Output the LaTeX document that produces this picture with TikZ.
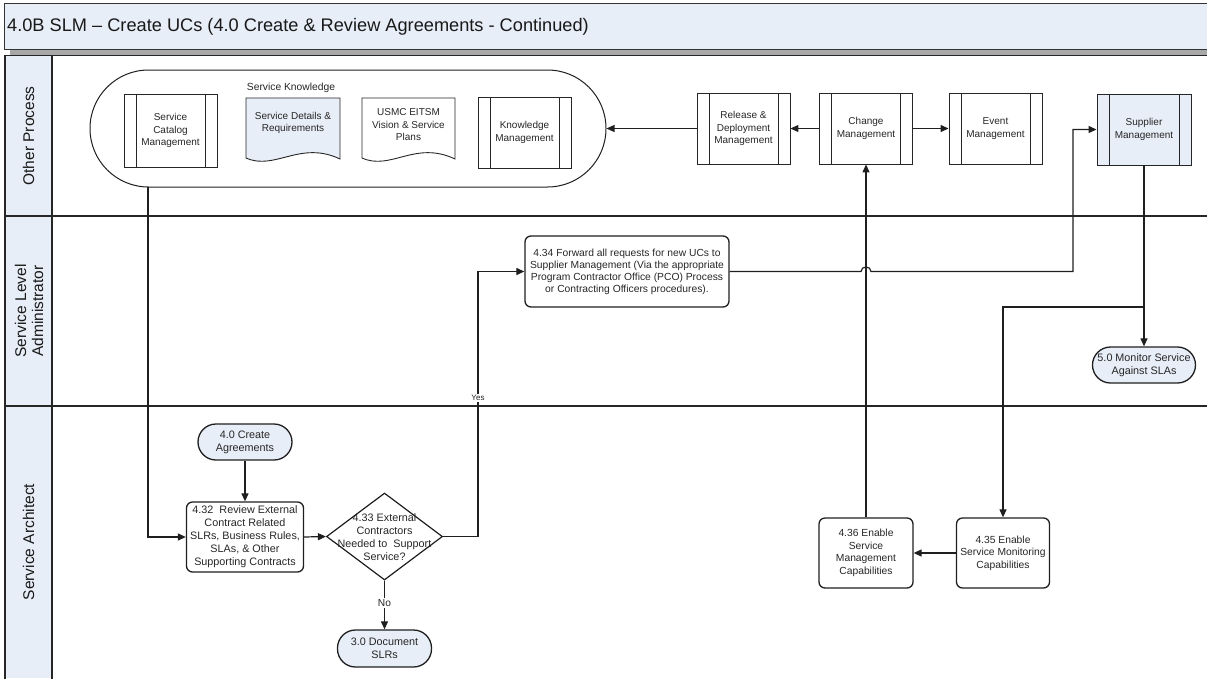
\documentclass[tikz,border=0pt]{standalone}
\usepackage{fontspec}
\setmainfont{Liberation Sans}
\usetikzlibrary{arrows.meta,shapes.geometric,calc}
\definecolor{lblue}{HTML}{E8EEF7}
\definecolor{shgray}{HTML}{A8A8A8}
\newcommand\fsz[2]{\fontsize{#1}{#2}\selectfont}
\begin{document}
\begin{tikzpicture}[x=1pt,y=-1pt,
 line/.style={draw=black!88, line width=1.2pt},
 flow/.style={line, -{Triangle[length=8pt,width=7pt]}},
 txt/.style={align=center, text=black!85, inner sep=0pt},
 predef/.style={draw=black!85, line width=0.9pt, minimum width=93pt, minimum height=71pt, inner sep=0pt, align=center, text=black!85, font=\fsz{10}{12.5},
   path picture={\draw[black!85, line width=0.9pt] ([xshift=12pt]path picture bounding box.north west) -- ([xshift=12pt]path picture bounding box.south west) ([xshift=-12pt]path picture bounding box.north east) -- ([xshift=-12pt]path picture bounding box.south east);}},
 proc/.style={draw=black!88, line width=1.3pt, rounded corners=6pt, inner sep=0pt, align=center, text=black!85},
 term/.style={draw=black!88, line width=1.3pt, fill=lblue, rounded corners=18pt, inner sep=0pt, align=center, text=black!85, font=\fsz{10.8}{13}},
 lanelbl/.style={rotate=90, align=center, text=black!90, font=\fsz{15.5}{17}, inner sep=0pt},
 lane/.style={draw=black!85, line width=1.5pt}
]
\useasboundingbox (0,0) rectangle (1207,678);
% title
\fill[shgray] (10,49) rectangle (1210,55);
\draw[fill=lblue, draw=black!80, line width=1pt] (4,3) rectangle (1215,49);
\node[anchor=west, font=\fsz{18.2}{20}, text=black!90, inner sep=0pt] (title) at (7,26.5) {4.0B SLM – Create UCs (4.0 Create \& Review Agreements - Continued)};
% lanes
\fill[lblue] (5,55) rectangle (52,678);
\draw[lane] (5,55.5) -- (1210,55.5);
\draw[lane] (5,55) -- (5,680);
\draw[lane] (52,55) -- (52,680);
\draw[lane] (5,216) -- (1210,216);
\draw[lane] (5,406) -- (1210,406);
\node[lanelbl] (l1) at (28.5,136) {Other Process};
\node[lanelbl] (l2) at (29,311) {Service Level\\Administrator};
\node[lanelbl] (l3) at (28.5,542) {Service Architect};
% Other process lane
\node[draw=black!88, line width=1pt, rounded corners=58.5pt, minimum width=516pt, minimum height=117pt, inner sep=0pt] (sk) at (348,128.5) {};
\node[txt, font=\fsz{10.3}{12}] (skl) at (291,88) {Service Knowledge};
\node[predef, minimum height=73pt] (scm) at (170.5,130.5) {Service\\Catalog\\Management};
\filldraw[draw=black!85, line width=0.9pt, fill=lblue] (246,98) -- (340,98) -- (340,159) .. controls (300,140) and (275,171) .. (246,158) -- cycle;
\node[txt, font=\fsz{10}{12.5}] (sdr) at (293,123) {Service Details \&\\Requirements};
\draw[draw=black!85, line width=0.9pt] (362,98) -- (455,98) -- (455,159) .. controls (415,140) and (391,171) .. (362,158) -- cycle;
\node[txt, font=\fsz{10}{12.5}] (usmc) at (408.5,125) {USMC EITSM\\Vision \& Service\\Plans};
\node[predef] (km) at (524.5,132.5) {Knowledge\\Management};
\node[predef] (rdm) at (743.5,128.5) {Release \&\\Deployment\\Management};
\node[predef] (chm) at (866,128.5) {Change\\Management};
\node[predef] (evm) at (995.5,128.5) {Event\\Management};
\node[predef, fill=lblue, minimum width=94pt] (sm) at (1144,129.5) {Supplier\\Management};
% SLA lane
\node[proc, minimum width=204pt, minimum height=71pt, font=\fsz{10.3}{12}] (ta) at (627,271.5) {4.34 Forward all requests for new UCs to\\Supplier Management (Via the appropriate\\Program Contractor Office (PCO) Process\\or Contracting Officers procedures).};
\node[term, minimum width=103pt, minimum height=36pt] (mon) at (1144,365) {5.0 Monitor Service\\Against SLAs};
% Architect lane
\node[term, minimum width=94pt, minimum height=36pt] (c40) at (245,442) {4.0 Create\\Agreements};
\node[proc, minimum width=117pt, minimum height=70pt, font=\fsz{10.8}{13}] (r32) at (245,537) {4.32\ \ Review External\\Contract Related\\SLRs, Business Rules,\\SLAs, \& Other\\Supporting Contracts};
\node[diamond, draw=black!88, line width=1.2pt, minimum width=116pt, minimum height=87pt, inner sep=0pt] (d33) at (384.5,536.5) {};
\node[txt, font=\fsz{10.8}{13}] (d33t) at (384.5,537) {4.33 External\\Contractors\\Needed to\ \ Support\\Service?};
\node[term, minimum width=94pt, minimum height=37pt] (c30) at (384.5,648.5) {3.0 Document\\SLRs};
\node[proc, minimum width=94pt, minimum height=70pt, font=\fsz{10.3}{12.5}] (c36) at (866,553) {4.36 Enable\\Service\\Management\\Capabilities};
\node[proc, minimum width=93pt, minimum height=70pt, font=\fsz{10.3}{12.5}] (c35) at (1003,553) {4.35 Enable\\Service Monitoring\\Capabilities};
% connectors
\draw[flow] (rdm.west) -- (sk.east);
\draw[flow] (chm.west) -- (rdm.east);
\draw[flow] (chm.east) -- (evm.west);
\draw[flow] (c36.north) -- (chm.south);
\coordinate (skb) at (148,187);
\draw[flow] (skb) |- (r32.west);
\draw[flow] (c40.south) -- (r32.north);
\draw[flow] (r32.east) -- (d33.west);
\coordinate (yesc) at (478,536.5);
\draw[flow] (d33.east) -- (yesc) |- (ta.west);
\draw[flow] (d33.south) -- (c30.north);
\coordinate (hopa) at (861,271.5);
\coordinate (hopb) at (871,271.5);
\coordinate (smc) at (1073,271.5);
\draw[flow] (ta.east) -- (hopa) .. controls (861,265.5) and (871,265.5) .. (hopb) -- (smc) |- (sm.west);
\draw[flow] (sm.south) -- (mon.north);
\coordinate (br) at (1144,307);
\draw[flow] (br) -| (c35.north);
\draw[flow] (c35.west) -- (c36.east);
\node[txt, fill=white, font=\fsz{8}{9}, inner sep=1pt] (yes) at (478,398) {Yes};
\node[txt, fill=white, font=\fsz{10.2}{12}, inner sep=1pt] (no) at (384.5,603) {No};
\end{tikzpicture}
\end{document}
